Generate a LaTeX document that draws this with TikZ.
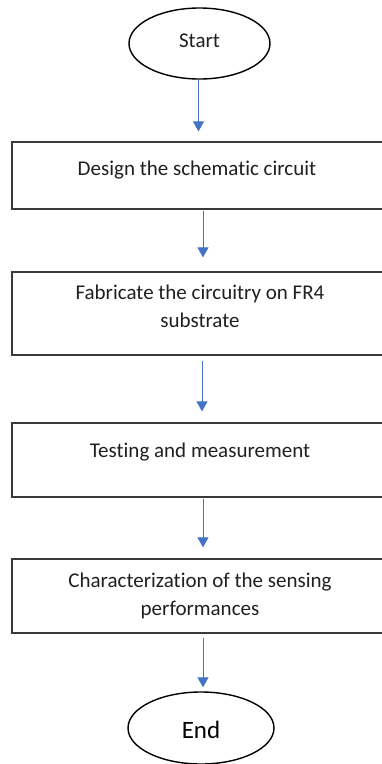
\documentclass[tikz,border=0pt]{standalone}
\usepackage{fontspec}
\setmainfont[Ligatures={NoCommon}]{Carlito}
\usetikzlibrary{arrows.meta,shapes.geometric}
\definecolor{flowblue}{HTML}{4472C4}
\definecolor{boxline}{HTML}{3A3A3A}
\definecolor{inktext}{HTML}{202020}
\tikzset{
  terminal/.style={ellipse, draw=black, line width=1.4pt, inner sep=0pt},
  stepbox/.style={rectangle, draw=boxline, line width=1.3pt, inner sep=0pt, minimum width=376pt},
  boxtext/.style={anchor=base, align=center, text=inktext, inner sep=0pt,
    font=\fontsize{21}{28}\selectfont},
  flowarrow/.style={draw=flowblue, line width=0.9pt, -{Triangle[width=11pt,length=10pt]}},
}
\begin{document}
\begin{tikzpicture}[x=1pt, y=-1pt]
  \clip (0,0) rectangle (382,764);
  \fill[white] (0,0) rectangle (382,764);

  % terminals
  \node[terminal, minimum width=141pt, minimum height=71pt] (start) at (199.5,43.5) {};
  \node[boxtext] (tstart) at (199.5,47) {Start};
  \node[terminal, minimum width=146pt, minimum height=72pt] (end) at (201,728) {};
  \node[boxtext, font=\fontsize{25}{30}\selectfont, text=black] (tend) at (201,738) {End};

  % process steps
  \node[stepbox, minimum height=67pt] (b1) at (200,175.5) {};
  \node[stepbox, minimum height=83pt] (b2) at (200,313.5) {};
  \node[stepbox, minimum height=74pt] (b3) at (200,460) {};
  \node[stepbox, minimum height=74pt] (b4) at (200,596) {};

  % step labels (anchored on the baseline of the last line)
  \node[boxtext] (t1) at (197,175) {Design the schematic circuit};
  \node[boxtext] (t2) at (200,327) {Fabricate the circuitry on FR4\\substrate};
  \node[boxtext] (t3) at (200,457) {Testing and measurement};
  \node[boxtext] (t4) at (200,615) {Characterization of the sensing\\performances};

  % connectors
  \draw[flowarrow, shorten >=10pt] ([xshift=-1pt]start.south) -- ([xshift=-1pt]start.south |- b1.north);
  \draw[flowarrow, shorten <=1pt, shorten >=14pt] ([xshift=3pt]b1.south) -- ([xshift=3pt]b1.south |- b2.north);
  \draw[flowarrow, shorten <=5pt, shorten >=11pt] ([xshift=2pt]b2.south) -- ([xshift=2pt]b2.south |- b3.north);
  \draw[flowarrow, shorten <=1pt, shorten >=11pt] ([xshift=3pt]b3.south) -- ([xshift=3pt]b3.south |- b4.north);
  \draw[flowarrow, shorten <=4pt, shorten >=4pt] ([xshift=3pt]b4.south) -- ([xshift=3pt]b4.south |- end.north);
\end{tikzpicture}
\end{document}
